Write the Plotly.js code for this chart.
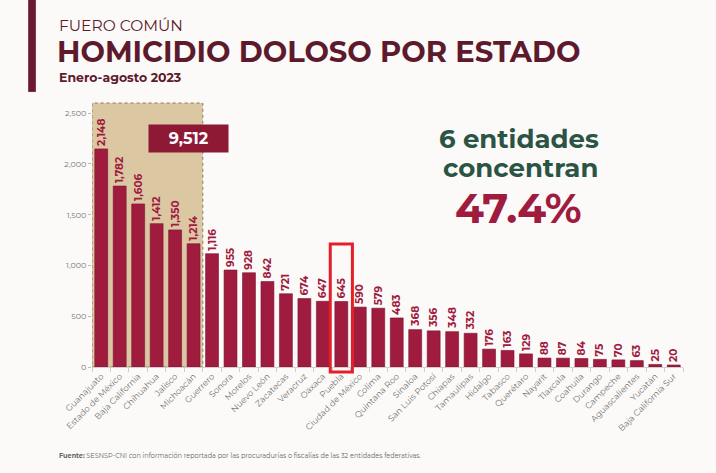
<!DOCTYPE html>
<html>
<head>
<meta charset="utf-8">
<script src="https://cdn.plot.ly/plotly-3.0.1.min.js"></script>
<style>
html,body{margin:0;padding:0;background:#fbfaf8;}
#chart{width:716px;height:473px;}
</style>
</head>
<body>
<div id="chart"></div>
<script>
const estados = ["Guanajuato","Estado de México","Baja California","Chihuahua","Jalisco","Michoacán","Guerrero","Sonora","Morelos","Nuevo León","Zacatecas","Veracruz","Oaxaca","Puebla","Ciudad de México","Colima","Quintana Roo","Sinaloa","San Luis Potosí","Chiapas","Tamaulipas","Hidalgo","Tabasco","Querétaro","Nayarit","Tlaxcala","Coahuila","Durango","Campeche","Aguascalientes","Yucatán","Baja California Sur"];
const homicidios = [2148,1782,1606,1412,1350,1214,1116,955,928,842,721,674,647,645,590,579,483,368,356,348,332,176,163,129,88,87,84,75,70,63,25,20];
const yTicks = [0,500,1000,1500,2000,2500];
const topCount = 6;
const topTotal = "9,512";
const highlighted = "Puebla";
const shareText = "47.4%";

const hi = estados.indexOf(highlighted);
const font = "Montserrat, 'DejaVu Sans', sans-serif";

const trace = {
  type: 'bar',
  x: estados,
  y: homicidios,
  marker: {color: '#9f1c3f', line: {color: '#7d1230', width: 0.6}},
  width: 0.7,
  texttemplate: '<b>%{y:,}</b>',
  textposition: 'outside',
  textangle: -90,
  constraintext: 'none',
  textfont: {family: font, size: 10.5, color: '#9f1c3f'},
  cliponaxis: false,
  hoverinfo: 'x+y'
};

const layout = {
  width: 716, height: 473,
  paper_bgcolor: '#fbfaf8',
  plot_bgcolor: 'rgba(0,0,0,0)',
  margin: {l: 92, r: 33, t: 103, b: 106},
  showlegend: false,
  bargap: 0.3,
  xaxis: {
    type: 'category',
    tickangle: -45,
    tickfont: {family: font, size: 8.5, color: '#777'},
    showline: true, linecolor: '#cfcfcf', linewidth: 1,
    ticks: 'outside', tickson: 'boundaries', ticklen: 4, tickcolor: '#cfcfcf',
    range: [-0.5, estados.length - 0.5],
    fixedrange: true
  },
  yaxis: {
    range: [0, 2600],
    tickvals: yTicks,
    tickformat: ',',
    tickfont: {family: font, size: 8, color: '#777'},
    showgrid: false, zeroline: false,
    showline: false,
    ticks: 'outside', ticklen: 3, tickcolor: '#bbb',
    fixedrange: true
  },
  shapes: [
    {type: 'rect', xref: 'x', yref: 'paper', x0: -0.5, x1: topCount - 0.5, y0: 0, y1: 1,
     fillcolor: 'rgba(210,182,135,0.75)', line: {color: '#8a7a5c', width: 1, dash: 'dot'}, layer: 'below'},
    {type: 'rect', xref: 'x', yref: 'paper', x0: hi - 0.6, x1: hi + 0.6, y0: -0.019, y1: 0.466,
     fillcolor: 'rgba(0,0,0,0)', line: {color: '#e3202a', width: 3}},
    {type: 'rect', xref: 'paper', yref: 'paper', x0: -0.108, x1: -0.095, y0: 1.042, y1: 1.4,
     fillcolor: '#6a1a31', line: {width: 0}}
  ],
  annotations: [
    {xref: 'paper', yref: 'paper', x: 0.163, y: 0.866, xanchor: 'center', yanchor: 'middle',
     text: '<b>' + topTotal + '</b>', showarrow: false,
     font: {family: font, size: 16, color: '#ffffff'},
     bgcolor: '#8d1935', width: 77, height: 25},
    {xref: 'paper', yref: 'paper', x: -0.06, y: 1.293, xanchor: 'left', yanchor: 'middle',
     text: 'FUERO COMÚN', showarrow: false, font: {family: font, size: 15.5, color: '#5e1a2d'}},
    {xref: 'paper', yref: 'paper', x: -0.062, y: 1.195, xanchor: 'left', yanchor: 'middle',
     text: '<b>HOMICIDIO DOLOSO POR ESTADO</b>', showarrow: false, font: {family: font, size: 29, color: '#5e1a2d'}},
    {xref: 'paper', yref: 'paper', x: -0.06, y: 1.098, xanchor: 'left', yanchor: 'middle',
     text: '<b>Enero-agosto 2023</b>', showarrow: false, font: {family: font, size: 12.5, color: '#5e1a2d'}},
    {xref: 'paper', yref: 'paper', x: 0.722, y: 0.864, xanchor: 'center', yanchor: 'middle',
     text: '<b>6 entidades</b>', showarrow: false, font: {family: font, size: 26, color: '#2b5445'}},
    {xref: 'paper', yref: 'paper', x: 0.725, y: 0.752, xanchor: 'center', yanchor: 'middle',
     text: '<b>concentran</b>', showarrow: false, font: {family: font, size: 26, color: '#2b5445'}},
    {xref: 'paper', yref: 'paper', x: 0.7225, y: 0.602, xanchor: 'center', yanchor: 'middle',
     text: '<b>' + shareText + '</b>', showarrow: false, font: {family: font, size: 42, color: '#9f1c3f'}},
    {xref: 'paper', yref: 'paper', x: -0.06, y: -0.337, xanchor: 'left', yanchor: 'middle',
     text: '<b>Fuente:</b> SESNSP-CNI con información reportada por las procuradurías o fiscalías de las 32 entidades federativas.',
     showarrow: false, font: {family: font, size: 6.5, color: '#666'}}
  ]
};

Plotly.newPlot('chart', [trace], layout, {displayModeBar: false, staticPlot: true});
</script>
</body>
</html>
